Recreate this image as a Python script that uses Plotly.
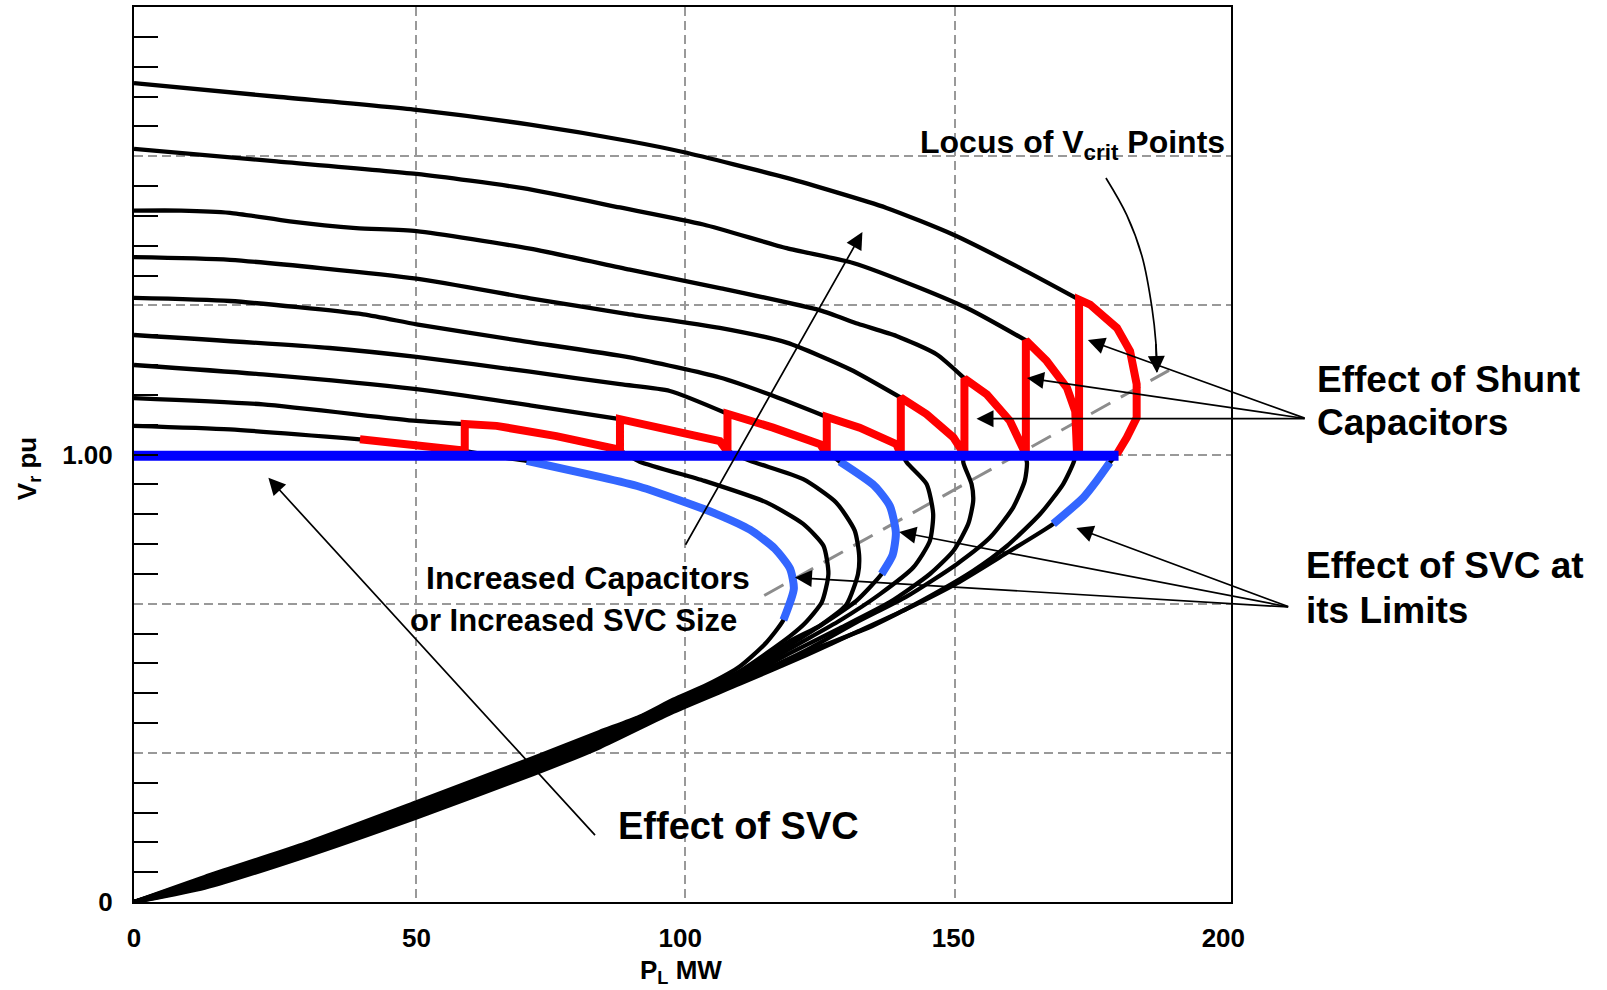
import plotly.graph_objects as go

# ---------------- data (P_L in MW, V_r in pu) ----------------
# upper (stable) branches, black, from P=0 to where the red capacitor switching starts
c1_x = [0, 25.6, 51.5, 72.2, 90.4, 100.1, 119.0, 137.2, 149.4, 161.5, 172.3]
c1_v = [1.830, 1.800, 1.770, 1.737, 1.700, 1.676, 1.618, 1.551, 1.491, 1.417, 1.346]
c2_x = [0, 26.0, 51.5, 70.9, 88.6, 103.8, 119.0, 131.1, 143.3, 152.4, 162.6]
c2_v = [1.683, 1.655, 1.627, 1.595, 1.552, 1.514, 1.461, 1.428, 1.372, 1.324, 1.255]
c3_x = [0, 8.6, 17.5, 28.4, 40.5, 51.5, 72.2, 90.4, 106.8, 125.1, 132.0, 139.0, 146.3, 151.4]
c3_v = [1.545, 1.545, 1.540, 1.521, 1.506, 1.499, 1.460, 1.413, 1.372, 1.322, 1.292, 1.265, 1.224, 1.170]
c4_x = [0, 17.5, 51.5, 72.2, 89.5, 106.8, 119.0, 130.6, 139.8]
c4_v = [1.441, 1.435, 1.393, 1.349, 1.315, 1.283, 1.250, 1.190, 1.127]
c5_x = [0, 17.5, 41.8, 51.5, 70.0, 90.4, 106.8, 115.9, 126.3]
c5_v = [1.350, 1.343, 1.313, 1.291, 1.255, 1.217, 1.172, 1.134, 1.084]
c6_x = [0, 35.7, 51.5, 72.2, 88.6, 97.7, 108.2]
c6_v = [1.267, 1.238, 1.218, 1.185, 1.157, 1.142, 1.091]
c7_x = [0, 23.5, 51.5, 72.2, 88.6]
c7_v = [1.200, 1.179, 1.146, 1.110, 1.079]
c8_x = [0, 23.5, 51.5, 60.3]
c8_v = [1.126, 1.112, 1.075, 1.068]
c9_x = [0, 17.5, 41.2]
c9_v = [1.064, 1.056, 1.034]

# portions of each curve traced in red (effect of shunt capacitors)
c9_cap_x = [41.2, 50.0, 59.4]
c9_cap_v = [1.034, 1.024, 1.010]
c8_cap_x = [60.3, 66.1, 77.0, 88.0]
c8_cap_v = [1.068, 1.064, 1.041, 1.012]
c7_cap_x = [88.6, 97.7, 106.8, 108.0]
c7_cap_v = [1.079, 1.056, 1.030, 1.010]
c6_cap_x = [108.2, 116.5, 125.1, 126.0]
c6_cap_v = [1.091, 1.060, 1.023, 1.010]
c5_cap_x = [126.3, 132.3, 139.0, 139.6]
c5_cap_v = [1.084, 1.060, 1.023, 1.010]
c4_cap_x = [139.8, 144.5, 149.4, 151.2]
c4_cap_v = [1.127, 1.090, 1.038, 1.010]
c3_cap_x = [151.4, 155.5, 159.7, 161.5, 162.1]
c3_cap_v = [1.170, 1.134, 1.075, 1.030, 1.010]
c2_cap_x = [162.6, 166.4, 170.1, 171.6, 171.9]
c2_cap_v = [1.255, 1.209, 1.149, 1.097, 1.010]
c1_cap_x = [172.3, 174.3, 179.2, 181.6, 182.8, 182.8, 181.0, 179.2]
c1_cap_v = [1.346, 1.335, 1.283, 1.231, 1.157, 1.082, 1.038, 1.001]

# lower branches (below 1.0 pu) down to the origin
c9_low_x = [66.0, 71.6, 84.9, 92.2, 100.1, 106.0, 112.3, 116.8, 119.6, 120.3, 118.4, 115.3, 110.5, 104.4, 98.3, 92.2, 84.9, 72.8, 51.5, 30.2, 12.9, 0]
c9_low_v = [0.995, 0.986, 0.950, 0.928, 0.895, 0.868, 0.832, 0.790, 0.745, 0.700, 0.630, 0.580, 0.527, 0.485, 0.452, 0.414, 0.380, 0.322, 0.223, 0.126, 0.056, 0]
c8_low_x = [92.2, 104.0, 115.3, 122.0, 125.7, 126.6, 125.4, 122.5, 119.6, 110.5, 98.3, 84.9, 72.8, 51.5, 30.2, 12.9, 0]
c8_low_v = [0.984, 0.941, 0.893, 0.845, 0.796, 0.733, 0.670, 0.625, 0.594, 0.516, 0.446, 0.375, 0.317, 0.219, 0.123, 0.053, 0]
c7_low_x = [112.3, 122.0, 128.0, 131.4, 132.2, 132.0, 129.9, 125.1, 119.6, 110.5, 98.3, 84.9, 72.8, 51.5, 30.2, 12.9, 0]
c7_low_v = [0.986, 0.945, 0.893, 0.830, 0.775, 0.733, 0.665, 0.618, 0.583, 0.510, 0.443, 0.371, 0.313, 0.214, 0.119, 0.050, 0]
c6_low_x = [128.7, 135.0, 137.8, 138.9, 138.3, 136.3, 131.7, 125.7, 119.6, 110.5, 98.3, 84.9, 72.8, 51.5, 30.2, 12.9, 0]
c6_low_v = [0.984, 0.930, 0.885, 0.825, 0.775, 0.733, 0.673, 0.622, 0.575, 0.505, 0.440, 0.367, 0.308, 0.210, 0.116, 0.047, 0]
c5_low_x = [140.9, 144.5, 145.7, 145.1, 142.1, 136.0, 128.7, 119.6, 110.5, 98.3, 84.9, 72.8, 51.5, 30.2, 12.9, 0]
c5_low_v = [0.982, 0.934, 0.867, 0.807, 0.748, 0.688, 0.629, 0.566, 0.500, 0.437, 0.362, 0.304, 0.206, 0.112, 0.044, 0]
c4_low_x = [151.2, 152.7, 153.0, 152.1, 149.4, 145.1, 137.8, 128.7, 119.6, 110.5, 98.3, 84.9, 72.8, 51.5, 30.2, 12.9, 0]
c4_low_v = [0.982, 0.934, 0.897, 0.845, 0.785, 0.733, 0.670, 0.612, 0.556, 0.497, 0.434, 0.358, 0.299, 0.202, 0.109, 0.041, 0]
c3_low_x = [162.8, 162.4, 160.3, 156.1, 150.0, 140.9, 131.7, 122.6, 110.5, 98.3, 84.9, 72.8, 51.5, 30.2, 12.9, 0]
c3_low_v = [0.982, 0.941, 0.882, 0.815, 0.755, 0.683, 0.625, 0.563, 0.494, 0.431, 0.354, 0.295, 0.197, 0.105, 0.038, 0]
c2_low_x = [171.3, 169.4, 165.2, 159.1, 153.0, 143.9, 134.8, 122.6, 110.5, 98.3, 84.9, 72.8, 51.5, 30.2, 12.9, 0]
c2_low_v = [0.982, 0.934, 0.867, 0.795, 0.740, 0.675, 0.618, 0.558, 0.491, 0.428, 0.350, 0.290, 0.193, 0.102, 0.035, 0]
c1_low_x = [177.9, 175.5, 173.1, 167.6, 159.1, 150.0, 140.9, 131.7, 122.6, 110.5, 98.3, 84.9, 72.8, 51.5, 30.2, 12.9, 0]
c1_low_v = [0.982, 0.941, 0.904, 0.845, 0.780, 0.712, 0.655, 0.603, 0.552, 0.488, 0.425, 0.346, 0.286, 0.189, 0.098, 0.032, 0]

# lower-branch point ranges drawn in light blue (SVC at its limits): (first, last)
svc_limit_c9 = (1, 11)
svc_limit_c6 = (0, 6)
svc_limit_c1 = (0, 4)

# SVC holding 1.0 pu
svc_x = [0, 179.5]
svc_v = [0.997, 0.997]

# locus of V_crit points (dashed)
locus_x = [114.9, 188.7]
locus_v = [0.685, 1.188]

# curved pointer for the "Locus" label
locus_arrow_x = [177.2, 181.0, 183.8, 185.6, 186.3, 186.5]
locus_arrow_v = [1.618, 1.535, 1.442, 1.327, 1.250, 1.185]

# x tick labels and vertical grid lines as they sit in the (hand-drawn) original
x_tick_pos = [0, 51.5, 99.6, 149.4, 198.6]
x_tick_labels = ["0", "50", "100", "150", "200"]
x_grid = [51.5, 100.4, 149.6]
y_grid = [1/3, 2/3, 1.0, 4/3, 5/3]
y_minor_ticks = [k / 15 for k in range(0, 31) if k % 5 != 0] + [0, 1.0]

FONT = "Liberation Sans, Arial, Helvetica, sans-serif"
BLACK = "#000000"
RED = "#FF0000"
BLUE = "#0000FF"
LBLUE = "#3366FF"
X_MAX = 200.0

curves = [
    (c1_x, c1_v, c1_cap_x, c1_cap_v, c1_low_x, c1_low_v),
    (c2_x, c2_v, c2_cap_x, c2_cap_v, c2_low_x, c2_low_v),
    (c3_x, c3_v, c3_cap_x, c3_cap_v, c3_low_x, c3_low_v),
    (c4_x, c4_v, c4_cap_x, c4_cap_v, c4_low_x, c4_low_v),
    (c5_x, c5_v, c5_cap_x, c5_cap_v, c5_low_x, c5_low_v),
    (c6_x, c6_v, c6_cap_x, c6_cap_v, c6_low_x, c6_low_v),
    (c7_x, c7_v, c7_cap_x, c7_cap_v, c7_low_x, c7_low_v),
    (c8_x, c8_v, c8_cap_x, c8_cap_v, c8_low_x, c8_low_v),
    (c9_x, c9_v, c9_cap_x, c9_cap_v, c9_low_x, c9_low_v),
]

fig = go.Figure()

# locus line
fig.add_trace(go.Scatter(x=locus_x, y=locus_v, mode="lines",
                         line=dict(color="#8c8c8c", width=3, dash="22px,12px"),
                         hoverinfo="skip"))

# black PV curves
for ux, uv, cx, cv, lx, lv in curves:
    fig.add_trace(go.Scatter(x=ux + cx + lx, y=uv + cv + lv, mode="lines",
                             line=dict(color=BLACK, width=4.3, shape="spline", smoothing=0.6),
                             hoverinfo="skip"))

# red capacitor switching sawtooth
red_x, red_v = [], []
for i, (ux, uv, cx, cv, lx, lv) in enumerate(reversed(curves)):
    if i > 0:
        red_x.append(cx[0]); red_v.append(1.0)
    red_x += cx; red_v += cv
fig.add_trace(go.Scatter(x=red_x, y=red_v, mode="lines",
                         line=dict(color=RED, width=8), hoverinfo="skip"))

# light blue SVC-at-limit segments
for (lx, lv), (a, b) in [((c9_low_x, c9_low_v), svc_limit_c9),
                         ((c6_low_x, c6_low_v), svc_limit_c6),
                         ((c1_low_x, c1_low_v), svc_limit_c1)]:
    fig.add_trace(go.Scatter(x=lx[a:b], y=lv[a:b], mode="lines",
                             line=dict(color=LBLUE, width=8, shape="spline", smoothing=0.6),
                             hoverinfo="skip"))

# SVC flat 1.0 pu line
fig.add_trace(go.Scatter(x=svc_x, y=svc_v, mode="lines",
                         line=dict(color=BLUE, width=10), hoverinfo="skip"))

# curved pointer
fig.add_trace(go.Scatter(x=locus_arrow_x, y=locus_arrow_v, mode="lines",
                         line=dict(color=BLACK, width=1.7, shape="spline"), hoverinfo="skip"))

ann = []
def text(t, x, y, size, xanchor="left"):
    # x given in MW; placed in paper units so labels beyond the axis stay visible
    ann.append(dict(text=t, x=x / X_MAX, y=y, xref="paper", yref="y", showarrow=False,
                    xanchor=xanchor, yanchor="middle",
                    font=dict(family=FONT, size=size, color=BLACK, weight="bold")))

def arrow(hx, hy, tx, ty):
    ann.append(dict(text="", x=hx, y=hy, ax=tx, ay=ty, xref="x", yref="y",
                    axref="x", ayref="y", showarrow=True, arrowhead=2, arrowsize=2,
                    arrowwidth=1.7, arrowcolor=BLACK, standoff=0, startstandoff=0))

text("Locus of V<sub>crit</sub> Points", 143.0, 1.693, 32)
text("Effect of Shunt", 215.3, 1.167, 37)
text("Capacitors", 215.3, 1.071, 37)
text("Effect of SVC at", 213.3, 0.753, 37)
text("its Limits", 213.3, 0.652, 37)
text("Increased Capacitors", 82.7, 0.725, 32, "center")
text("or Increased SVC Size", 80.2, 0.629, 31, "center")
text("Effect of SVC", 110.3, 0.169, 38, "center")

for hx, hy in [(173.9, 1.256), (162.8, 1.171), (153.6, 1.080)]:
    arrow(hx, hy, 213.7, 1.080)
for hx, hy in [(171.8, 0.836), (139.5, 0.827), (120.5, 0.725)]:
    arrow(hx, hy, 210.7, 0.659)
arrow(132.8, 1.497, 100.4, 0.795)
arrow(24.5, 0.948, 84.3, 0.146)
arrow(186.5, 1.182, 186.3, 1.250)

# axis titles
ann.append(dict(text="P<sub>L</sub> MW", x=99.8 / X_MAX, y=-0.078, xref="paper", yref="paper",
                showarrow=False, xanchor="center", yanchor="middle",
                font=dict(family=FONT, size=26, color=BLACK, weight="bold")))
ann.append(dict(text="V<sub>r</sub> pu", x=-0.0963, y=0.484, xref="paper", yref="paper",
                showarrow=False, xanchor="center", yanchor="middle", textangle=-90,
                font=dict(family=FONT, size=26, color=BLACK, weight="bold")))

fig.update_layout(
    width=1607, height=990,
    margin=dict(l=134, r=376, t=5, b=88),
    paper_bgcolor="white", plot_bgcolor="white",
    showlegend=False, hovermode=False,
    annotations=ann,
    xaxis=dict(range=[0, X_MAX], tickmode="array", tickvals=x_tick_pos, ticktext=x_tick_labels,
               showgrid=False,
               showline=True, linecolor=BLACK, linewidth=2, mirror=True,
               ticks="", zeroline=False, ticklabelstandoff=12,
               tickfont=dict(family=FONT, size=26, color=BLACK, weight="bold"),
               minor=dict(tickmode="array", tickvals=x_grid, ticks="",
                          showgrid=True, gridcolor="#999999", gridwidth=1.6,
                          griddash="9px,5px")),
    yaxis=dict(range=[0, 2.0], tickmode="array",
               tickvals=y_minor_ticks,
               ticktext=["" if v not in (0, 1.0) else ("0" if v == 0 else "1.00") for v in y_minor_ticks],
               ticks="inside", ticklen=24, tickwidth=2, tickcolor=BLACK,
               showgrid=False, zeroline=False,
               showline=True, linecolor=BLACK, linewidth=2, mirror=True,
               ticklabelstandoff=14,
               tickfont=dict(family=FONT, size=26, color=BLACK, weight="bold"),
               minor=dict(tickmode="array", tickvals=y_grid, ticks="",
                          showgrid=True, gridcolor="#999999", gridwidth=1.6,
                          griddash="9px,5px")),
)

fig.write_html("out.html", config={"displayModeBar": False},
               post_script="document.body.style.margin='0px';")
